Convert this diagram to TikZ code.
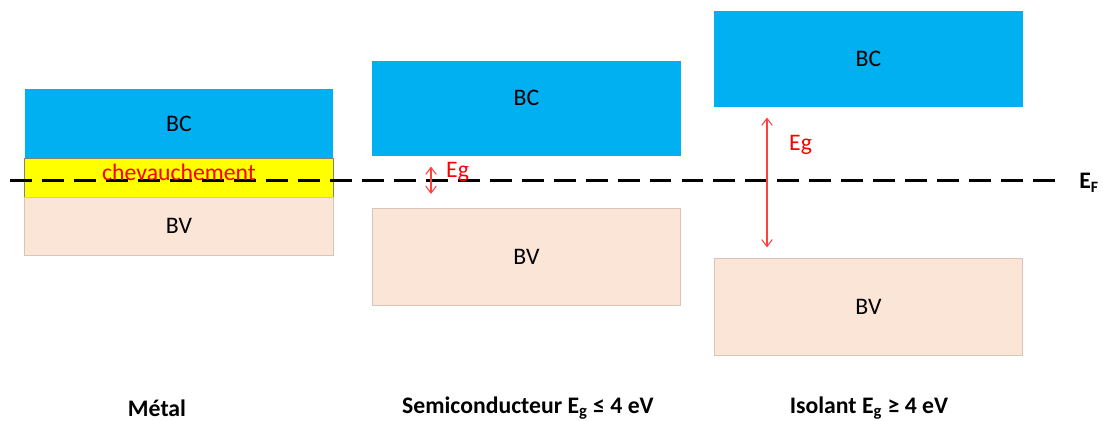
\documentclass[tikz,border=0pt]{standalone}
\usepackage{fontspec}
\setmainfont{Carlito}
\usetikzlibrary{arrows.meta}
\definecolor{bandblue}{HTML}{00B0F0}
\definecolor{bandtan}{HTML}{FBE5D6}
\definecolor{tanline}{HTML}{D8C4B8}
\definecolor{overlap}{HTML}{FFFF00}
\definecolor{gapred}{HTML}{FF0000}
\begin{document}
\begin{tikzpicture}[x=0.02cm, y=-0.02cm, every node/.style={font=\fontsize{13.5}{16}\selectfont}]
  \tikzstyle{band}=[minimum width=6.17cm,inner sep=0pt,outer sep=0pt]
  \tikzstyle{bc}=[band,fill=bandblue]
  \tikzstyle{bv}=[band,fill=bandtan,draw=tanline]
  \tikzstyle{gap}=[{Straight Barb[length=4pt,width=6pt]}-{Straight Barb[length=4pt,width=6pt]},gapred!75,line width=0.6pt]
  \tikzstyle{title}=[font=\fontsize{13.5}{16}\selectfont\bfseries]
  \useasboundingbox (0,0) rectangle (1103,421);
  % metal
  \node[bc,minimum height=1.38cm] (mbc) at (179,123.5) {BC};
  \node[band,fill=overlap,draw=gray,minimum height=0.78cm] (mov) at (179,177.5) {};
  \node[bv,minimum height=1.16cm] (mbv) at (179,226) {BV};
  % semiconducteur
  \node[bc,minimum height=1.9cm,label={[yshift=6pt]center:BC}] (sbc) at (526.5,108.5) {};
  \node[bv,minimum height=1.94cm] (sbv) at (526.5,256.5) {BV};
  % isolant
  \node[bc,minimum height=1.92cm] (ibc) at (868.5,59) {BC};
  \node[bv,minimum height=1.94cm] (ibv) at (868.5,306.5) {BV};
  % niveau de Fermi
  \coordinate (efl) at (10,181);
  \coordinate (efr) at (1058,181);
  \draw[line width=1.7pt,dash pattern=on 12.5pt off 5.7pt] (efl) -- (efr);
  \node[anchor=west,inner sep=0pt] (ef) at (1079,183) {\textbf{E\textsubscript{\fontsize{9}{10}\selectfont F}}};
  \node[text=gapred] (movt) at (179,172) {chevauchement};
  % gaps
  \coordinate (sg) at (431,181);
  \coordinate (ig) at (767,181);
  \draw[gap,shorten <=6,shorten >=8] (sbc.south -| sg) -- (sbv.north -| sg);
  \draw[gap,shorten <=6,shorten >=6] (ibc.south -| ig) -- (ibv.north -| ig);
  \node[text=gapred,anchor=west] (seg) at (440,172) {Eg};
  \node[text=gapred,anchor=west] (ieg) at (783,145) {Eg};
  % titres
  \node[title] (tm) at (157,408) {Métal};
  \node[title] (ts) at (528,408) {Semiconducteur E\textsubscript{g} ≤ 4 eV};
  \node[title] (ti) at (869,408) {Isolant E\textsubscript{g} ≥ 4 eV};
\end{tikzpicture}
\end{document}
